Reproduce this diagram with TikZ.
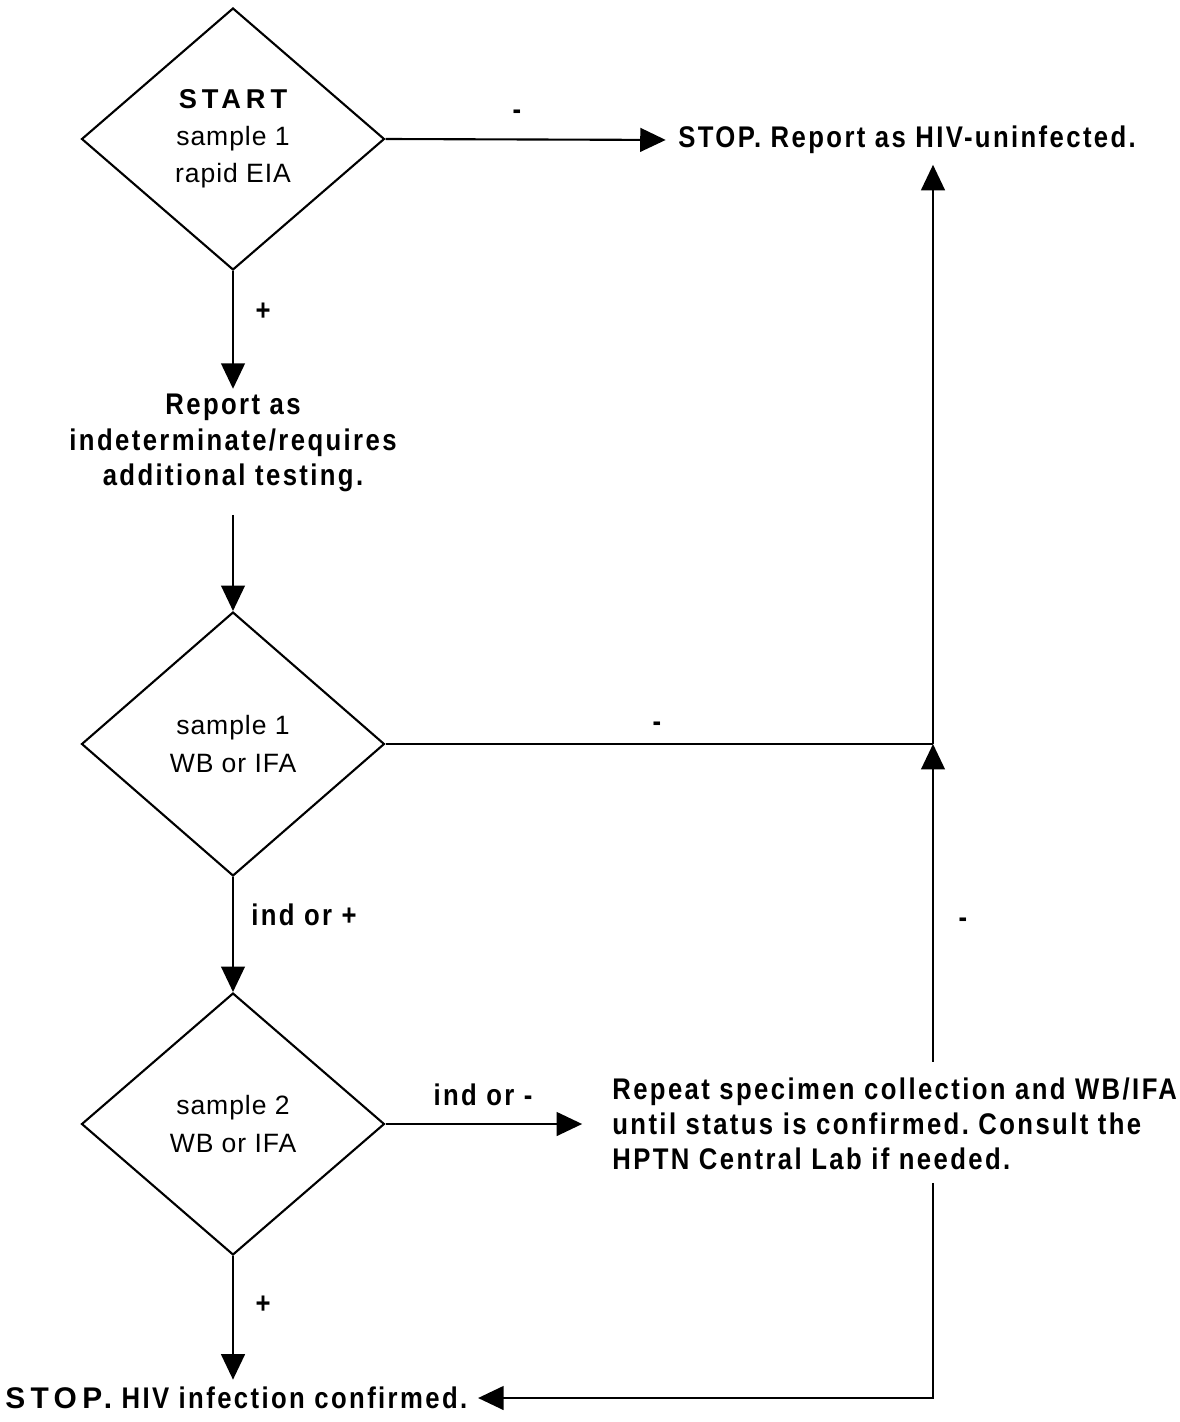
\documentclass[tikz,border=0pt]{standalone}
\usepackage{fontspec}
\setmainfont{Liberation Sans}
\newfontfamily\bnarrow[FakeStretch=0.86,LetterSpace=8]{Liberation Sans}
\newfontfamily\dspaced[LetterSpace=3.5]{Liberation Sans}
\newfontfamily\startfont[LetterSpace=18]{Liberation Sans}
\usetikzlibrary{shapes.geometric,arrows.meta}
\frenchspacing
\begin{document}
\begin{tikzpicture}[x=0.02cm,y=-0.02cm,
  dec/.style={diamond, draw, line width=1.2pt, minimum width=6.06cm, minimum height=5.24cm,
    inner sep=0pt, align=center, font=\dspaced\fontsize{15.1}{21.2}\selectfont},
  lbl/.style={font=\bnarrow\bfseries\fontsize{17}{20}\selectfont, inner sep=0pt},
  txt/.style={lbl, align=center},
  conn/.style={line width=1.2pt},
  arr/.style={conn, -{Triangle[length=14.5pt,width=13.5pt]}},
]
\useasboundingbox (0,0) rectangle (1179,1422);
\fill[white] (0,0) rectangle (1179,1422);

\node[dec] (d1) at (233,139) {{\startfont\bfseries\fontsize{15.5}{21}\selectfont START}\\sample 1\\rapid EIA};
\node[dec, minimum height=5.28cm] (d2) at (233,744) {sample 1\\WB or IFA};
\node[dec] (d3) at (233,1124) {sample 2\\WB or IFA};

\node[txt] (rep) at (233,443) {Report as\\indeterminate/requires\\additional testing.};
\node[lbl, anchor=west] (stop1) at (678,140) {STOP. Report as HIV-uninfected.};
\node[lbl, align=left, anchor=west] (again) at (612,1124) {Repeat specimen collection and WB/IFA\\until status is confirmed. Consult the\\HPTN Central Lab if needed.};
\node[lbl, anchor=west] (stop2) at (5,1398) {{\startfont\bfseries STOP.} HIV infection confirmed.};

\coordinate (j) at (933,744);

\node[lbl] (m1) at (517,115) {-};
\node[lbl] (p1) at (263,312) {+};
\node[lbl] (m2) at (657,727) {-};
\node[lbl] (m3) at (963,923) {-};
\node[lbl] (io1) at (304,915) {ind or +};
\node[lbl] (io2) at (483,1095) {ind or -};
\node[lbl] (p2) at (263,1305) {+};

\draw[arr, shorten >=7pt] (d1.east) -- (stop1.west);
\draw[arr, shorten >=3pt] (d1.south) -- (rep.north);
\draw[arr] ([yshift=-13pt]rep.south) -- (d2.north);
\draw[conn] (d2.east) -- (j);
\draw[arr, shorten >=6pt] (j) -- (j |- stop1.south);
\draw[arr] (d2.south) -- (d3.north);
\draw[arr, shorten >=17pt] (d3.east) -- (d3.east -| again.west);
\draw[arr] ([yshift=9pt]again.north -| j) -- (j);
\draw[arr, shorten >=6pt] ([yshift=-7pt]again.south -| j) -- (j |- stop2.east) -- (stop2.east);
\draw[arr, shorten >=4pt] (d3.south) -- (d3.south |- stop2.north);
\end{tikzpicture}
\end{document}
